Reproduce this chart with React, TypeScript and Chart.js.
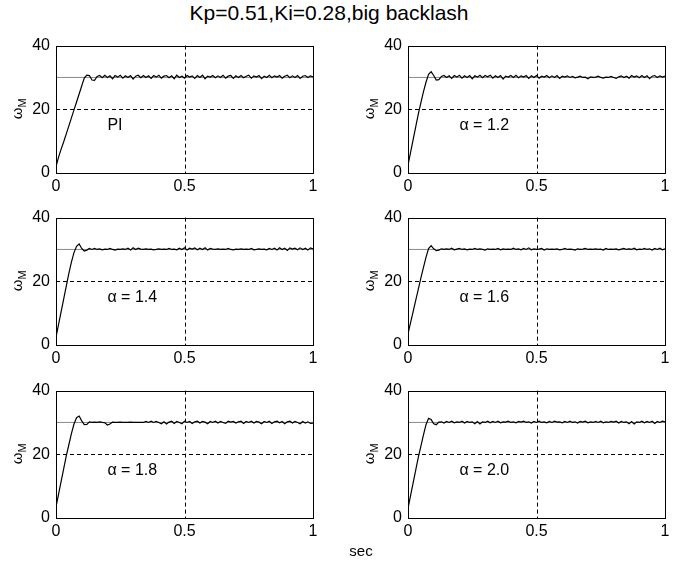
import React, { useEffect, useRef } from "react";
import { Chart, registerables } from "chart.js";

Chart.register(...registerables);

// ---- text ----
const TITLE = "Kp=0.51,Ki=0.28,big backlash";
const X_LABEL = "sec";
const Y_LABEL_MAIN = "ω";
const Y_LABEL_SUB = "M";
const PANEL_LABELS = ["PI", "α = 1.2", "α = 1.4", "α = 1.6", "α = 1.8", "α = 2.0"];

// ---- axes ----
const X_TICKS = [0, 0.5, 1];
const Y_TICKS = [0, 20, 40];
const X_GRID = [0.5];
const Y_GRID = [20];
const SETPOINT = 30;

// ---- sample times (s) ----
const TIME = [
  0, 0.01, 0.02, 0.03, 0.04, 0.05, 0.06, 0.07, 0.08, 0.09,
  0.1, 0.11, 0.12, 0.13, 0.14, 0.15, 0.16, 0.17, 0.18, 0.19,
  0.2, 0.21, 0.22, 0.23, 0.24, 0.25, 0.26, 0.27, 0.28, 0.29,
  0.3, 0.31, 0.32, 0.33, 0.34, 0.35, 0.36, 0.37, 0.38, 0.39,
  0.4, 0.41, 0.42, 0.43, 0.44, 0.45, 0.46, 0.47, 0.48, 0.49,
  0.5, 0.51, 0.52, 0.53, 0.54, 0.55, 0.56, 0.57, 0.58, 0.59,
  0.6, 0.61, 0.62, 0.63, 0.64, 0.65, 0.66, 0.67, 0.68, 0.69,
  0.7, 0.71, 0.72, 0.73, 0.74, 0.75, 0.76, 0.77, 0.78, 0.79,
  0.8, 0.81, 0.82, 0.83, 0.84, 0.85, 0.86, 0.87, 0.88, 0.89,
  0.9, 0.91, 0.92, 0.93, 0.94, 0.95, 0.96, 0.97, 0.98, 0.99,
  1,
];

// ---- motor speed responses ----
const W_PI = [
  2, 5, 7.5, 9.8, 12.3, 14.8, 17.3, 19.8, 22.3, 24.8, 27.3, 29.8, 30.7, 30.6, 29.2, 29.1, 30.3,
  30.6, 29.9, 30.7, 30, 30.5, 29.6, 30.6, 30.1, 30.7, 29.8,
  30.5, 30, 30.6, 29.5, 30.4, 30.7, 29.9, 30.6, 30, 30.5,
  29.7, 30.6, 30.1, 30.7, 29.8, 30.4, 30.6, 29.9, 30.5, 29.6,
  30.7, 30, 30.4, 29.8, 30.6, 30.1, 30.5, 29.7, 30.6, 30,
  30.7, 29.6, 30.4, 30.1, 30.6, 29.9, 30.5, 30, 30.7, 29.8,
  30.4, 30.6, 29.7, 30.5, 30, 30.6, 29.9, 30.4, 30.7, 29.8,
  30.5, 30.1, 30.6, 29.6, 30.4, 30, 30.7, 29.9, 30.5, 30.1,
  30.6, 29.8, 30.4, 30.7, 29.9, 30.5, 30, 30.6, 29.7, 30.4,
  30.6, 30, 30.5, 30.2,
];

const W_A12 = [
  2.5, 6.5, 10.5, 14.5, 18.5, 22, 25.5, 28.5, 31, 31.8, 30.6, 29.2, 29.3, 30.3,
  30.6, 30, 30.5, 29.7, 30.6, 30.1, 30.7, 29.8, 30.5, 30,
  30.6, 29.6, 30.5, 30.1, 30.7, 29.9, 30.6, 30.2, 30.7, 29.8,
  30.5, 30, 30.6, 29.5, 30.4, 30.1, 30.6, 30, 30.7, 29.9,
  30.5, 30.1, 30.6, 29.7, 30.5, 30, 30.6, 29.8, 30.4, 30.1,
  30.6, 29.9, 30.5, 30, 30.6, 29.7, 30.4,
  30.1, 30.5, 30, 30.3, 29.9, 30.1, 30.4, 30, 30.1, 29.6,
  30.2, 30, 30.1, 30.4, 30, 29.8, 30.1, 30, 30.3, 30,
  29.7, 30.2, 30.5, 30, 30.4,
  29.8, 30.6, 30.1, 30.5, 29.9, 30.6, 30, 30.5, 29.6, 30.4, 30.6, 30, 30.5, 30.1, 30.4,
];

const W_A14 = [
  2.5, 6.5, 10.5, 14.5, 18.5, 22.5, 26, 29, 31, 31.7, 30.3, 29.5, 29.8, 30.3,
  30, 30.3, 30, 30.2, 29.9, 30.1, 30, 30.3, 30, 29.8,
  30.1, 30, 30.2, 30, 30.4, 29.8, 30.5, 30, 30.4, 30.1,
  30, 30.2, 30, 30.1, 29.9, 30, 30.2, 30, 30.1, 30,
  30.3, 30, 30.1, 29.9, 30.4, 30, 30.5, 29.8, 30.4, 30.1,
  30.5, 29.9, 30.4, 30, 30.5, 29.8, 30.3, 30.1, 30, 30.2,
  30, 30.1, 30, 30.3, 30, 29.9, 30.1, 30, 30.2, 30,
  30.1, 30, 30.3, 29.9, 30, 30.2, 30, 30.1, 29.9, 30.3,
  30, 30.4, 29.8, 30.5, 30, 30.4, 29.7, 30.5, 30.1, 30.4,
  29.9, 30.5, 30, 30.4, 29.8, 30.5, 30.2,
];

const W_A16 = [
  3.5, 7, 10.5, 14, 17.5, 21, 24.3, 27.5, 30.3, 31.2, 30.2, 29.6, 29.8, 30.2,
  30, 30.2, 30, 30.4, 29.9, 30.1, 30.3, 30, 30.2, 29.9,
  30.1, 30, 30.3, 30, 30.2, 30, 29.8, 30.2, 30, 30.1,
  30, 30.3, 29.9, 30.2, 30, 30.1, 30, 30.4, 30, 30.2,
  29.9, 30.3, 30, 30.5, 29.9, 30.2, 30, 30.1, 30.3, 29.8,
  30.2, 30, 30.1, 30, 30.2, 29.9, 30, 30.3, 30, 30.1,
  30, 29.8, 30.2, 30, 30.1, 30.3, 30, 30.1, 30, 30.2,
  30, 30.1, 29.8, 30.3, 30, 30.1, 30, 30.2, 29.9, 30.1,
  30.3, 30, 30.2, 30, 30.4, 29.9, 30.1, 30, 30.3, 30,
  30.2, 29.8, 30.3, 30, 30.4, 29.9, 30.2,
];

const W_A18 = [
  3.5, 7.5, 11.5, 15.5, 19.5, 23, 26.5, 29.5, 31.5, 32, 30.5, 29.3, 29.4, 30.2,
  30, 30.1, 30, 30.2, 30, 29.9, 29.2, 29.5, 30.1, 30,
  30, 30.1, 30, 30, 30, 30.1, 30, 30, 30, 30,
  30, 30.3, 30, 30.4, 30, 30.3, 30, 29.6, 30.2, 29.5,
  30.1, 30.4, 29.7, 30.3, 30, 29.6, 30.4, 30, 30.3, 29.7,
  30.2, 30.4, 29.8, 30.3, 30.1, 29.6, 30.3, 30, 30.4, 29.8,
  30.3, 30, 29.7, 30.4, 30.1, 30.3, 29.8, 30.2, 30.4, 29.7,
  30.3, 30, 30.4, 29.8, 30.3, 30.1, 29.6, 30.3, 30, 30.4,
  29.7, 30.2, 30.4, 29.9, 30.3, 29.6, 30.2, 30.4, 29.8, 30.3,
  30, 29.6, 30.3, 29.8, 30.2, 29.7, 29.8,
];

const W_A20 = [
  3, 7, 11, 15, 19, 22.5, 26, 29.3, 31.3, 30.9, 29.6, 29.3, 30.1, 30.2,
  29.8, 30.3, 30, 30.4, 29.9, 30.2, 30, 30.4, 29.8, 30.3,
  30, 30.2, 29.6, 30.3, 29.5, 30.2, 30, 30.4, 29.9, 30.3,
  30, 30.4, 29.9, 30.2, 30.1, 30.4, 30, 30.2, 29.9, 30.3,
  30.1, 30.4, 30, 30.2, 29.8, 30.3, 30, 30.4, 30, 30.2,
  29.9, 30.3, 30, 30.4, 30.1, 30.2, 29.9, 30.3, 30, 30.4,
  30, 30.2, 29.8, 30.3, 30.1, 30.4, 29.9, 30.2, 30, 30.3,
  30, 30.4, 29.9, 30.2, 30, 30.3, 30.1, 30.4, 29.8, 30.3,
  30, 30.2, 29.6, 30.3, 29.5, 30.2, 30, 30.4, 29.9, 30.3,
  30, 30.4, 29.7, 30.3, 30, 30.4, 30.2,
];

const SERIES = [W_PI, W_A12, W_A14, W_A16, W_A18, W_A20];

// ---- layout ----
const FONT = "'Liberation Sans', Arial, Helvetica, sans-serif";
const COL_LEFT = [56, 408];
const ROW_TOP = [42, 214, 387];
const PLOT_W = 257;
const PLOT_H = 131;
const PAD_L = 8;
const PAD_T = 12;
const PAD_R = 12;
const Y_AXIS_W = 48;
const X_AXIS_H = 30;
const LABEL_POS = { x: 0.2, y: 15 };

const panelDecor = {
  id: "panelDecor",
  beforeDatasetsDraw(chart: any) {
    const { ctx, chartArea, scales } = chart;
    const xs = scales.x;
    const ys = scales.y;
    ctx.save();
    ctx.strokeStyle = "#000";
    ctx.lineWidth = 1;
    ctx.setLineDash([4, 3]);
    for (const gx of X_GRID) {
      const px = Math.round(xs.getPixelForValue(gx)) + 0.5;
      ctx.beginPath();
      ctx.moveTo(px, chartArea.top);
      ctx.lineTo(px, chartArea.bottom);
      ctx.stroke();
    }
    for (const gy of Y_GRID) {
      const py = Math.round(ys.getPixelForValue(gy)) + 0.5;
      ctx.beginPath();
      ctx.moveTo(chartArea.left, py);
      ctx.lineTo(chartArea.right, py);
      ctx.stroke();
    }
    ctx.restore();
  },
  afterDatasetsDraw(chart: any, _args: any, opts: any) {
    const { ctx, chartArea, scales } = chart;
    ctx.save();
    // axes box
    ctx.strokeStyle = "#000";
    ctx.lineWidth = 1;
    ctx.setLineDash([]);
    ctx.strokeRect(
      Math.round(chartArea.left) + 0.5,
      Math.round(chartArea.top) + 0.5,
      Math.round(chartArea.right - chartArea.left),
      Math.round(chartArea.bottom - chartArea.top)
    );
    // panel caption
    ctx.fillStyle = "#000";
    ctx.font = `16px ${FONT}`;
    ctx.textAlign = "left";
    ctx.textBaseline = "middle";
    ctx.fillText(
      opts.label,
      scales.x.getPixelForValue(LABEL_POS.x),
      scales.y.getPixelForValue(LABEL_POS.y)
    );
    // y-axis label with subscript, rotated
    const cy = (chartArea.top + chartArea.bottom) / 2 + 10;
    const bx = chartArea.left - 34;
    ctx.translate(bx, cy);
    ctx.rotate(-Math.PI / 2);
    ctx.textAlign = "left";
    ctx.textBaseline = "alphabetic";
    ctx.font = `15px ${FONT}`;
    ctx.fillText(Y_LABEL_MAIN, 0, 0);
    const w = ctx.measureText(Y_LABEL_MAIN).width;
    ctx.font = `11px ${FONT}`;
    ctx.fillText(Y_LABEL_SUB, w, 4);
    ctx.restore();
  },
};

function Panel({ values, label, left, top }: { values: number[]; label: string; left: number; top: number }) {
  const ref = useRef<HTMLCanvasElement | null>(null);
  const cw = PAD_L + Y_AXIS_W + PLOT_W + PAD_R;
  const chh = PAD_T + PLOT_H + X_AXIS_H;

  useEffect(() => {
    if (!ref.current) return;
    const points = TIME.map((t, i) => ({ x: t, y: values[i] }));
    const tickFont = { family: FONT, size: 16 };
    const chart = new Chart(ref.current, {
      type: "line",
      data: {
        datasets: [
          {
            data: points,
            borderColor: "#000",
            borderWidth: 1.2,
            pointRadius: 0,
            tension: 0,
            fill: false,
          },
          {
            data: [
              { x: X_TICKS[0], y: SETPOINT },
              { x: X_TICKS[X_TICKS.length - 1], y: SETPOINT },
            ],
            borderColor: "#8a8a8a",
            borderWidth: 1,
            pointRadius: 0,
            tension: 0,
            fill: false,
          },
        ],
      },
      options: {
        animation: false,
        responsive: false,
        devicePixelRatio: 1,
        events: [],
        layout: { padding: { left: PAD_L, top: PAD_T, right: PAD_R, bottom: 0 } },
        plugins: {
          legend: { display: false },
          title: { display: false },
          tooltip: { enabled: false },
          panelDecor: { label },
        } as any,
        scales: {
          x: {
            type: "linear",
            min: X_TICKS[0],
            max: X_TICKS[X_TICKS.length - 1],
            afterBuildTicks: (s: any) => {
              s.ticks = X_TICKS.map((v) => ({ value: v }));
            },
            afterFit: (s: any) => {
              s.height = X_AXIS_H;
            },
            ticks: {
              color: "#000",
              font: tickFont,
              padding: 4,
              maxRotation: 0,
              autoSkip: false,
              callback: (v: any) => String(v),
            },
            grid: { display: false, drawTicks: false },
            border: { display: false },
          },
          y: {
            type: "linear",
            min: Y_TICKS[0],
            max: Y_TICKS[Y_TICKS.length - 1],
            afterBuildTicks: (s: any) => {
              s.ticks = Y_TICKS.map((v) => ({ value: v }));
            },
            afterFit: (s: any) => {
              s.width = Y_AXIS_W;
            },
            ticks: {
              color: "#000",
              font: tickFont,
              padding: 6,
              autoSkip: false,
              callback: (v: any) => String(v),
            },
            grid: { display: false, drawTicks: false },
            border: { display: false },
          },
        },
      } as any,
      plugins: [panelDecor],
    });
    return () => chart.destroy();
  }, [values, label]);

  return (
    <canvas
      ref={ref}
      width={cw}
      height={chh}
      style={{
        position: "absolute",
        left: left - PAD_L - Y_AXIS_W,
        top: top - PAD_T,
        width: cw,
        height: chh,
      }}
    />
  );
}

export default function App() {
  return (
    <div
      style={{
        position: "absolute",
        left: 0,
        top: 0,
        width: 690,
        height: 563,
        background: "#fff",
        overflow: "hidden",
        fontFamily: FONT,
      }}
    >
      <div
        style={{
          position: "absolute",
          left: 129,
          width: 400,
          top: 2,
          textAlign: "center",
          fontSize: 21,
          lineHeight: "21px",
          color: "#000",
          whiteSpace: "nowrap",
        }}
      >
        {TITLE}
      </div>
      {SERIES.map((vals, i) => (
        <Panel
          key={i}
          values={vals}
          label={PANEL_LABELS[i]}
          left={COL_LEFT[i % 2]}
          top={ROW_TOP[Math.floor(i / 2)]}
        />
      ))}
      <div
        style={{
          position: "absolute",
          left: 311,
          width: 100,
          top: 542,
          textAlign: "center",
          fontSize: 15,
          lineHeight: "18px",
          color: "#000",
        }}
      >
        {X_LABEL}
      </div>
    </div>
  );
}
